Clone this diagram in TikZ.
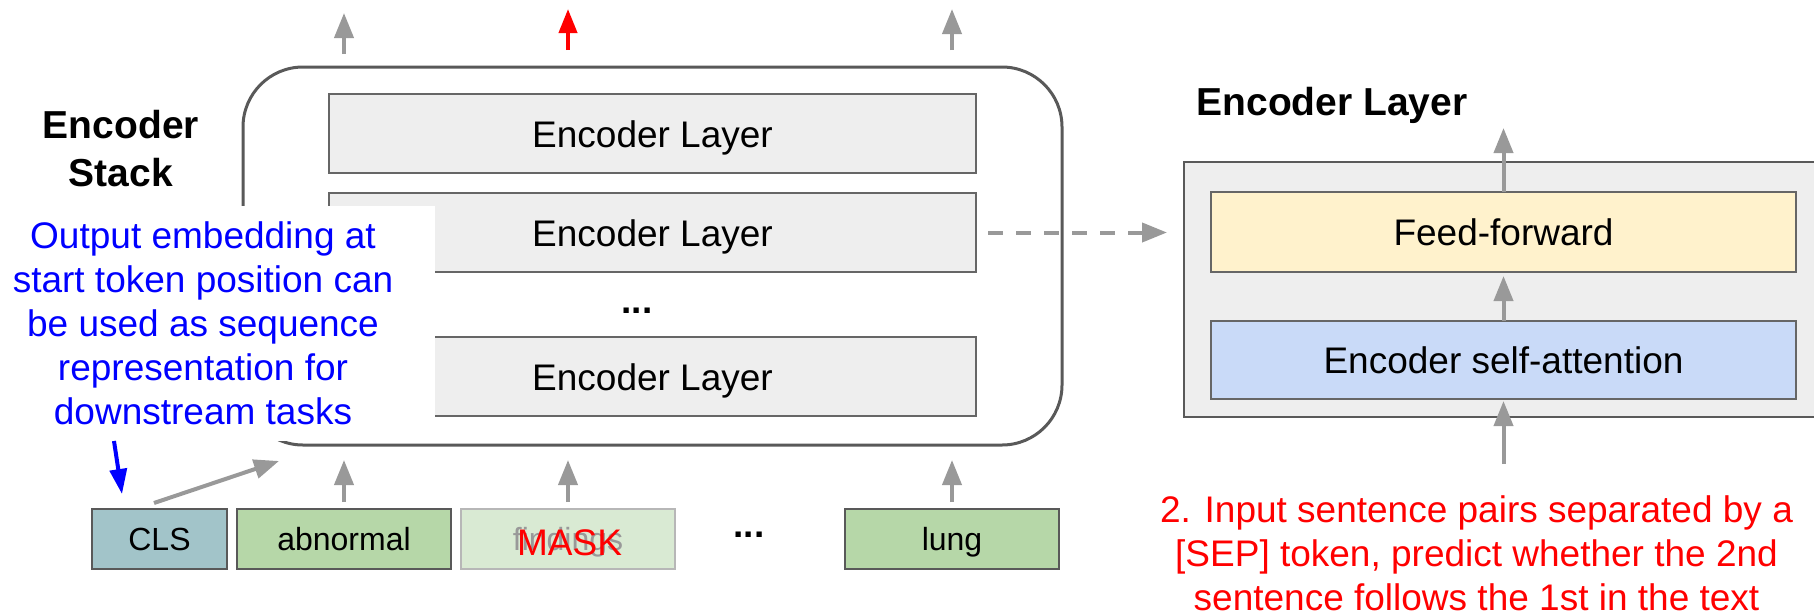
\documentclass[tikz,border=0pt]{standalone}
\usepackage{fontspec}
\setmainfont{Liberation Sans}
\usetikzlibrary{arrows.meta}

\definecolor{stackline}{HTML}{595959}
\definecolor{boxline}{HTML}{666666}
\definecolor{layerfill}{HTML}{EEEEEE}
\definecolor{arrowgray}{HTML}{999999}
\definecolor{clsfill}{HTML}{A2C4C9}
\definecolor{tokfill}{HTML}{B6D7A8}
\definecolor{maskfill}{HTML}{D9EAD3}
\definecolor{maskline}{HTML}{B7B7B7}
\definecolor{fffill}{HTML}{FFF2CC}
\definecolor{safill}{HTML}{C9DAF8}
\definecolor{pureblue}{HTML}{0000FF}
\definecolor{purered}{HTML}{FF0000}

\tikzset{
  every node/.style={inner sep=0pt, outer sep=0pt},
  bodyfont/.style={font=\fontsize{37}{44}\selectfont},
  titlefont/.style={font=\bfseries\fontsize{39}{48}\selectfont},
  stackbox/.style={draw=stackline, line width=3pt, rounded corners=60pt,
    minimum width=819pt, minimum height=378pt},
  layerbox/.style={draw=boxline, line width=2pt, fill=layerfill, bodyfont,
    minimum width=647pt, minimum height=79pt, text height=27pt, text depth=0pt},
  sublayer/.style={draw=boxline, line width=2pt, bodyfont,
    minimum width=585pt, text height=27pt, text depth=0pt},
  tokbox/.style={draw=stackline, line width=2pt, minimum height=60pt,
    font=\fontsize{32}{38}\selectfont, text height=23pt, text depth=0pt},
  dotsfont/.style={font=\bfseries\fontsize{37}{44}\selectfont, anchor=base},
  garrow/.style={draw=arrowgray, line width=4pt, -{Triangle[length=25pt,width=19pt]}},
  rarrow/.style={draw=purered, line width=4pt, -{Triangle[length=24pt,width=18pt]}},
  barrow/.style={draw=pureblue, line width=4pt, -{Triangle[length=25pt,width=17pt]}},
}

\begin{document}
\begin{tikzpicture}[x=1pt,y=-1pt]
\useasboundingbox (0,0) rectangle (1814,614);

% encoder stack with its layers
\node[stackbox] (stack) at (652.5,256) {};
\node[layerbox] (l1) at (652.5,133.5) {Encoder Layer};
\node[layerbox] (l2) at (652.5,232.5) {Encoder Layer};
\node[dotsfont] (sdots) at (637,313) {...};
\node[layerbox] (l3) at (652.5,376.5) {Encoder Layer};
% multi-line nodes: the base anchor sits on the last line
\node[titlefont, align=center, anchor=base] (stitle) at (121,186) {Encoder\\Stack};

% note about the start token
\node[fill=white, minimum width=435pt, minimum height=235pt] (notebg) at (217.5,323.5) {};
\node[bodyfont, text=pureblue, align=center, anchor=base] (note) at (203,424)
  {Output embedding at\\start token position can\\be used as sequence\\representation for\\downstream tasks};

% input tokens
\node[tokbox, fill=clsfill, minimum width=135pt] (cls) at (159.5,539) {CLS};
\node[tokbox, fill=tokfill, minimum width=214pt] (abn) at (344,539) {abnormal};
\node[tokbox, fill=maskfill, draw=maskline, text=arrowgray, minimum width=214pt] (fnd) at (568,539) {findings};
\node[bodyfont, text=purered, anchor=base] (mask) at (569.5,555) {MASK};
\node[dotsfont] (tdots) at (749,537) {...};
\node[tokbox, fill=tokfill, minimum width=214pt] (lung) at (952,539) {lung};

% token inputs into the stack
\foreach \t in {abn,fnd,lung}
  \draw[garrow, shorten <=7pt, shorten >=15pt] (\t.north) -- (\t.north |- stack.south);
\draw[garrow] ([xshift=-5.5pt,yshift=6pt]cls.north) -- ([xshift=36pt,yshift=-16pt]stack.south west);
\draw[barrow] ([xshift=114pt]notebg.south west) -- ([xshift=-37.5pt,yshift=15pt]cls.north);

% stack outputs
\coordinate (o1) at (344,13);
\coordinate (o2) at (568,9);
\coordinate (o3) at (952,9);
\draw[garrow, shorten <=13pt] (stack.north -| o1) -- (o1);
\draw[rarrow, shorten <=17pt] (stack.north -| o2) -- (o2);
\draw[garrow, shorten <=17pt] (stack.north -| o3) -- (o3);

% single encoder layer in detail
\node[titlefont, anchor=base] (ltitle) at (1332,115) {Encoder Layer};
\node[draw=stackline, line width=2.5pt, fill=layerfill,
      minimum width=660pt, minimum height=255pt] (outer) at (1514,289.5) {};
\node[sublayer, fill=fffill, minimum height=80pt] (ff) at (1503.5,232) {Feed-forward};
\node[sublayer, fill=safill, minimum height=78pt] (sa) at (1503.5,360) {Encoder self-attention};
\coordinate (fftop) at (1503.5,128);
\coordinate (sain) at (1503.5,464);
\draw[garrow] (ff.north) -- (fftop);
\draw[garrow, shorten >=4pt] (sa.north) -- (ff.south);
\draw[garrow, shorten >=2pt] (sain) -- (sa.south);

% link from a stack layer to its detailed view
\draw[garrow, dash pattern=on 15pt off 13pt, shorten <=12pt, shorten >=17pt]
  (l2.east) -- (l2.east -| outer.west);

% next sentence prediction note
\node[bodyfont, text=purered, align=center, anchor=base] (nsp) at (1476.5,610)
  {2. Input sentence pairs separated by a\\{[SEP]} token, predict whether the 2nd\\sentence follows the 1st in the text};
\end{tikzpicture}
\end{document}
